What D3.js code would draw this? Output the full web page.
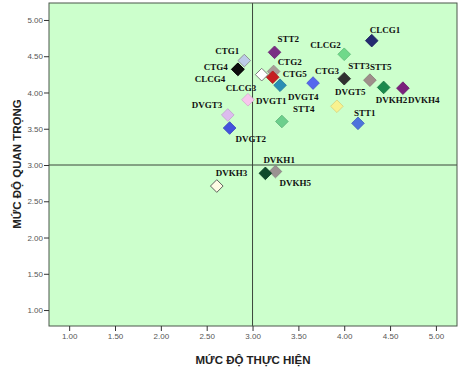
<!DOCTYPE html>
<html>
<head>
<meta charset="utf-8">
<script src="https://cdn.jsdelivr.net/npm/d3@7"></script>
<style>
  body { margin: 0; background: #fff; }
  svg { display: block; }
</style>
</head>
<body>
<div id="chart"></div>
<script>
// items, in drawing order (later ones sit on top)
var names = ["CLCG4", "CTG1", "CTG4", "CLCG1", "CLCG2", "STT2", "CLCG3", "CTG2", "CTG5",
             "DVGT4", "CTG3", "STT3", "STT5", "DVKH2", "DVKH4", "DVGT5", "STT1",
             "DVGT1", "DVGT3", "DVGT2", "STT4", "DVKH5", "DVKH1", "DVKH3"];
// MỨC ĐỘ THỰC HIỆN
var thucHien = [2.84, 2.91, 2.84, 4.30, 4.00, 3.24, 3.10, 3.23, 3.22,
                3.30, 3.66, 4.00, 4.28, 4.43, 4.64, 3.92, 4.15,
                2.95, 2.73, 2.75, 3.32, 3.25, 3.14, 2.61];
// MỨC ĐỘ QUAN TRỌNG
var quanTrong = [4.32, 4.44, 4.32, 4.715, 4.527, 4.554, 4.246, 4.29, 4.21,
                 4.10, 4.13, 4.19, 4.17, 4.07, 4.06, 3.81, 3.575,
                 3.90, 3.69, 3.51, 3.60, 2.91, 2.885, 2.71];
var tickValues = [1.00, 1.50, 2.00, 2.50, 3.00, 3.50, 4.00, 4.50, 5.00];
var refValue = 3.00;

// styling per item
var fills = {
  CLCG1: "#242a70", CLCG2: "#6fd98a", CLCG3: "#ffffff", CLCG4: "#111111",
  CTG1: "#bccbe8", CTG2: "#a89c98", CTG3: "#5566ee", CTG4: "#0d0d0d", CTG5: "#c61f22",
  STT1: "#4d73dc", STT2: "#7a2d84", STT3: "#303030", STT4: "#6ccf8c", STT5: "#9e8e8a",
  DVGT1: "#f7c6ec", DVGT2: "#4352dc", DVGT3: "#dcbcee", DVGT4: "#2a8eb4", DVGT5: "#f8f290",
  DVKH1: "#0f4a2c", DVKH2: "#1a8a4c", DVKH3: "#fffbe4", DVKH4: "#7a217c", DVKH5: "#9b9292"
};
var strokes = { CLCG3: "#666", CTG1: "#888", DVKH3: "#444" };
// label offsets from the marker centre (text start, baseline)
var labelOff = {
  CLCG1: [-2, -8], CLCG2: [-34, -6], CLCG3: [-36, 16], CLCG4: [-43, 13],
  CTG1: [-29, -7], CTG2: [4, -6], CTG3: [2, -9], CTG4: [-34, 1], CTG5: [10, 0],
  STT1: [-4, -7], STT2: [3, -10], STT3: [4, -10], STT4: [11, -9], STT5: [0, -10],
  DVGT1: [8, 4], DVGT2: [6, 14], DVGT3: [-36, -7], DVGT4: [8, 15], DVGT5: [-2, -11],
  DVKH1: [-2, -10], DVKH2: [-8, 16], DVKH3: [-1, -10], DVKH4: [5, 15], DVKH5: [4, 14]
};

var width = 461, height = 368;
var plot = { left: 49, right: 457, top: 3, bottom: 326 };

var svg = d3.select("#chart").append("svg")
    .attr("width", width)
    .attr("height", height);

var x = d3.scaleLinear().domain([0.78, 5.23]).range([plot.left, plot.right]);
var y = d3.scaleLinear().domain([0.78, 5.234]).range([plot.bottom, plot.top]);

svg.append("rect")
    .attr("x", plot.left).attr("y", plot.top)
    .attr("width", plot.right - plot.left)
    .attr("height", plot.bottom - plot.top)
    .attr("fill", "#ccffcc");

// reference lines
svg.append("line")
    .attr("x1", x(refValue)).attr("x2", x(refValue))
    .attr("y1", plot.top).attr("y2", plot.bottom)
    .attr("stroke", "#3a463a").attr("stroke-width", 1);
svg.append("line")
    .attr("x1", plot.left).attr("x2", plot.right)
    .attr("y1", y(refValue)).attr("y2", y(refValue))
    .attr("stroke", "#3a463a").attr("stroke-width", 1);

svg.append("rect")
    .attr("x", plot.left).attr("y", plot.top)
    .attr("width", plot.right - plot.left)
    .attr("height", plot.bottom - plot.top)
    .attr("fill", "none")
    .attr("stroke", "#4b574b").attr("stroke-width", 1);

var fmt = d3.format(".2f");

var gx = svg.append("g")
    .attr("transform", "translate(0," + plot.bottom + ")")
    .call(d3.axisBottom(x).tickValues(tickValues).tickFormat(fmt).tickSize(5).tickPadding(2));
var gy = svg.append("g")
    .attr("transform", "translate(" + plot.left + ",0)")
    .call(d3.axisLeft(y).tickValues(tickValues).tickFormat(fmt).tickSize(5).tickPadding(1));

[gx, gy].forEach(function (g) {
  g.select(".domain").remove();
  g.selectAll(".tick line").attr("stroke", "#333");
  g.selectAll(".tick text")
      .attr("fill", "#555")
      .style("font-family", "Arial, 'Liberation Sans', sans-serif")
      .style("font-size", "8px");
});

// points
var diamond = d3.symbol().type(d3.symbolSquare).size(80);
var pts = names.map(function (n, i) { return { name: n, x: thucHien[i], y: quanTrong[i] }; });

svg.append("g").selectAll("path")
    .data(pts)
    .enter().append("path")
    .attr("d", diamond)
    .attr("transform", function (d) { return "translate(" + x(d.x) + "," + y(d.y) + ") rotate(45)"; })
    .attr("fill", function (d) { return fills[d.name]; })
    .attr("stroke", function (d) { return strokes[d.name] || d3.color(fills[d.name]).darker(0.4); })
    .attr("stroke-width", 0.8);

svg.append("g").selectAll("text")
    .data(pts)
    .enter().append("text")
    .attr("x", function (d) { return x(d.x) + labelOff[d.name][0]; })
    .attr("y", function (d) { return y(d.y) + labelOff[d.name][1]; })
    .style("font-family", "'Times New Roman', 'Liberation Serif', serif")
    .style("font-weight", "bold")
    .style("font-size", "9px")
    .attr("fill", "#111")
    .text(function (d) { return d.name; });

// axis titles
svg.append("text")
    .attr("x", (plot.left + plot.right) / 2)
    .attr("y", 364)
    .attr("text-anchor", "middle")
    .style("font-family", "Arial, 'Liberation Sans', sans-serif")
    .style("font-weight", "bold")
    .style("font-size", "11.5px")
    .attr("fill", "#222")
    .text("MỨC ĐỘ THỰC HIỆN");

svg.append("text")
    .attr("transform", "translate(21," + 164 + ") rotate(-90)")
    .attr("text-anchor", "middle")
    .style("font-family", "Arial, 'Liberation Sans', sans-serif")
    .style("font-weight", "bold")
    .style("font-size", "11.5px")
    .attr("fill", "#222")
    .text("MỨC ĐỘ QUAN TRỌNG");
</script>
</body>
</html>
